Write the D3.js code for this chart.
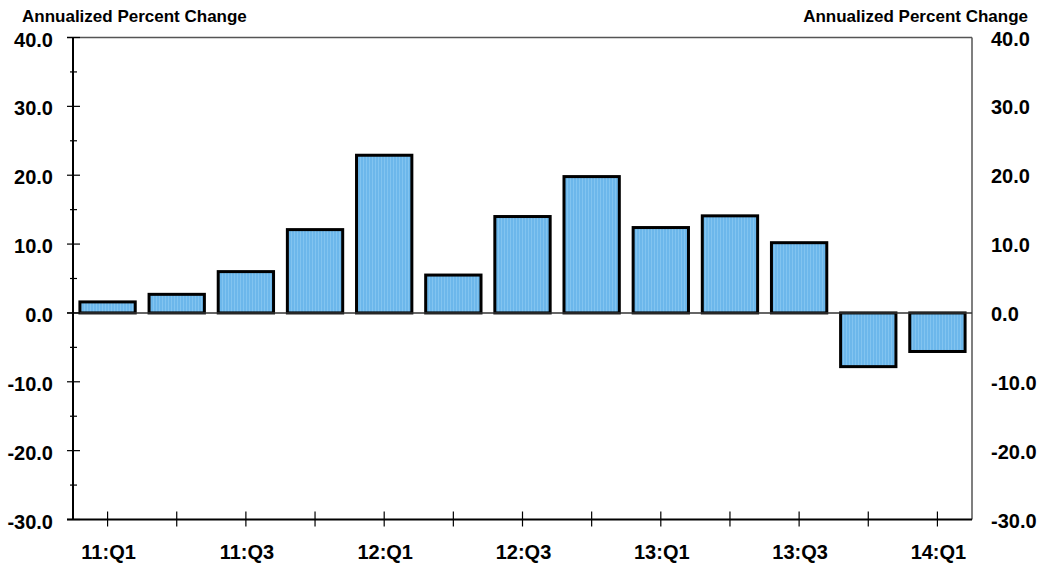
<!DOCTYPE html>
<html>
<head>
<meta charset="utf-8">
<script src="https://cdn.jsdelivr.net/npm/d3@7"></script>
<style>
  body { margin: 0; background: #fff; }
  svg { display: block; font-family: "Liberation Sans", Arial, sans-serif; font-weight: bold; }
</style>
</head>
<body>
<div id="chart"></div>
<script>
// data
var quarters = ['11:Q1', '11:Q2', '11:Q3', '11:Q4', '12:Q1', '12:Q2', '12:Q3', '12:Q4', '13:Q1', '13:Q2', '13:Q3', '13:Q4', '14:Q1'];
var changes = [1.6, 2.7, 6.0, 12.1, 22.9, 5.5, 14.0, 19.8, 12.4, 14.1, 10.2, -7.8, -5.6];
var tickLabels = ['11:Q1', '11:Q3', '12:Q1', '12:Q3', '13:Q1', '13:Q3', '14:Q1'];
var yTicks = [40, 30, 20, 10, 0, -10, -20, -30];
var yMinorTicks = [35, 25, 15, 5, -5, -15, -25];

var svgWidth = 1043;
var svgHeight = 565;
var plotLeft = 73, plotRight = 972, plotTop = 37.5, plotBottom = 519.5;

var svg = d3.select('#chart')
    .append('svg')
    .attr('width', svgWidth)
    .attr('height', svgHeight);

// striped fill like the original
var pat = svg.append('defs').append('pattern')
    .attr('id', 'stripes')
    .attr('patternUnits', 'userSpaceOnUse')
    .attr('width', 3)
    .attr('height', 10);
pat.append('rect').attr('width', 3).attr('height', 10).attr('fill', '#6cb7eb');
pat.append('rect').attr('width', 1).attr('height', 10).attr('fill', '#82c4f0');

var xScale = d3.scaleBand()
    .domain(quarters)
    .range([plotLeft, plotRight])
    .paddingInner(0.2)
    .paddingOuter(0.1);

var yScale = d3.scaleLinear()
    .domain([-30, 40])
    .range([plotBottom, plotTop]);

// top frame line
svg.append('line')
    .attr('x1', plotLeft - 6).attr('x2', plotRight)
    .attr('y1', yScale(40)).attr('y2', yScale(40))
    .attr('stroke', '#555').attr('stroke-width', 1.5);

// right axis line
svg.append('line')
    .attr('x1', plotRight).attr('x2', plotRight)
    .attr('y1', yScale(40)).attr('y2', yScale(-30))
    .attr('stroke', '#555').attr('stroke-width', 1.5);

// bars
svg.selectAll('.bar')
    .data(changes)
    .enter()
    .append('rect')
    .attr('class', 'bar')
    .attr('x', (d, i) => xScale(quarters[i]))
    .attr('width', xScale.bandwidth())
    .attr('y', d => yScale(Math.max(0, d)))
    .attr('height', d => Math.abs(yScale(d) - yScale(0)))
    .attr('fill', 'url(#stripes)')
    .attr('stroke', '#000')
    .attr('stroke-width', 3);

// zero line
svg.append('line')
    .attr('x1', plotLeft - 6).attr('x2', plotRight)
    .attr('y1', yScale(0)).attr('y2', yScale(0))
    .attr('stroke', '#333').attr('stroke-width', 1.5);

// left axis
svg.append('line')
    .attr('x1', plotLeft).attr('x2', plotLeft)
    .attr('y1', yScale(40)).attr('y2', yScale(-30))
    .attr('stroke', '#000').attr('stroke-width', 2);

svg.selectAll('.ymajor')
    .data(yTicks)
    .enter()
    .append('line')
    .attr('x1', plotLeft - 6).attr('x2', plotLeft + 7)
    .attr('y1', d => yScale(d)).attr('y2', d => yScale(d))
    .attr('stroke', '#000').attr('stroke-width', 1.2);

svg.selectAll('.yminor')
    .data(yMinorTicks)
    .enter()
    .append('line')
    .attr('x1', plotLeft - 3).attr('x2', plotLeft + 4)
    .attr('y1', d => yScale(d)).attr('y2', d => yScale(d))
    .attr('stroke', '#000').attr('stroke-width', 1.2);

// y labels left
svg.selectAll('.ylabL')
    .data(yTicks)
    .enter()
    .append('text')
    .attr('x', 53)
    .attr('y', d => yScale(d) + 9)
    .attr('text-anchor', 'end')
    .style('font-size', '20px')
    .text(d => d.toFixed(1));

// y labels right
svg.selectAll('.ylabR')
    .data(yTicks)
    .enter()
    .append('text')
    .attr('x', 991)
    .attr('y', d => yScale(d) + 8)
    .attr('text-anchor', 'start')
    .style('font-size', '20px')
    .text(d => d.toFixed(1));

// bottom axis
svg.append('line')
    .attr('x1', plotLeft - 6).attr('x2', plotRight)
    .attr('y1', yScale(-30)).attr('y2', yScale(-30))
    .attr('stroke', '#000').attr('stroke-width', 2);

svg.selectAll('.xtick')
    .data(quarters)
    .enter()
    .append('line')
    .attr('x1', d => xScale(d) + xScale.bandwidth() / 2)
    .attr('x2', d => xScale(d) + xScale.bandwidth() / 2)
    .attr('y1', plotBottom - 8).attr('y2', plotBottom + 7)
    .attr('stroke', '#000').attr('stroke-width', 1.2);

svg.selectAll('.xlab')
    .data(tickLabels)
    .enter()
    .append('text')
    .attr('x', d => xScale(d) + xScale.bandwidth() / 2 + 1)
    .attr('y', 559)
    .attr('text-anchor', 'middle')
    .style('font-size', '20px')
    .text(d => d);

// axis titles
svg.append('text')
    .attr('x', 22)
    .attr('y', 22)
    .style('font-size', '17px')
    .text('Annualized Percent Change');

svg.append('text')
    .attr('x', 1028)
    .attr('y', 22)
    .attr('text-anchor', 'end')
    .style('font-size', '17px')
    .text('Annualized Percent Change');
</script>
</body>
</html>
